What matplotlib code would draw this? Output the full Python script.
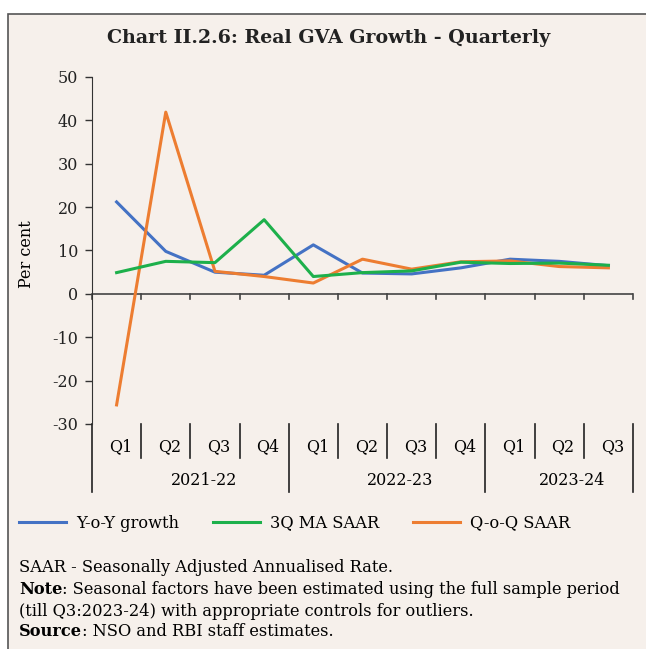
import matplotlib.pyplot as plt
from matplotlib.patches import Rectangle
from matplotlib.text import Annotation

quarters = ["Q1", "Q2", "Q3", "Q4", "Q1", "Q2", "Q3", "Q4", "Q1", "Q2", "Q3"]
years = ["2021-22", "2022-23", "2023-24"]
year_len = [4, 4, 3]

yoy = [21.2, 9.8, 5.0, 4.3, 11.3, 4.8, 4.6, 6.0, 8.0, 7.5, 6.5]
ma3_saar = [4.9, 7.5, 7.2, 17.1, 4.0, 4.9, 5.3, 7.3, 7.0, 7.1, 6.6]
qoq_saar = [-25.6, 41.9, 5.2, 4.0, 2.5, 8.0, 5.7, 7.4, 7.6, 6.3, 6.0]

BG = "#F6F0EB"
plt.rcParams["font.family"] = ["DejaVu Serif"]
plt.rcParams["axes.unicode_minus"] = False

fig = plt.figure(figsize=(6.46, 6.49), dpi=100)
fig.patch.set_facecolor("white")
fig.patches.append(Rectangle((8 / 646, -0.05), 1.2, 1 - 14 / 649 + 0.05,
                             transform=fig.transFigure, facecolor=BG,
                             edgecolor="#555555", linewidth=1.2, zorder=-10))

ax = fig.add_axes([92 / 646, 1 - 424 / 649, (633 - 92) / 646, (424 - 77) / 649])
ax.set_facecolor("none")

x = list(range(1, len(quarters) + 1))
ax.plot(x, yoy, color="#4472C4", lw=2.2, label="Y-o-Y growth", zorder=3)
ax.plot(x, ma3_saar, color="#1DB04B", lw=2.2, label="3Q MA SAAR", zorder=4)
ax.plot(x, qoq_saar, color="#ED7D31", lw=2.2, label="Q-o-Q SAAR", zorder=3)

ax.set_xlim(0.5, len(quarters) + 0.5)
ax.set_ylim(-30, 50)
ax.set_yticks(range(-30, 51, 10))
ax.tick_params(axis="y", direction="out", length=5, width=1, colors="#333333",
               labelsize=11.5, labelcolor="#222222", pad=5)
ax.set_xticks([])
for s in ["top", "right", "bottom"]:
    ax.spines[s].set_visible(False)
ax.spines["left"].set_color("#333333")
ax.axhline(0, color="#444444", lw=1.2, zorder=2)
ax.set_ylabel("Per cent", fontsize=11.5)
ax.yaxis.set_label_coords(-0.105, 0.49)

# category axis: ticks at zero line, separators and labels below
trans = ax.get_xaxis_transform()
for b in range(len(quarters) + 1):
    bx = b + 0.5
    ax.plot([bx, bx], [0, -1.2], color="#444444", lw=1.2, clip_on=False)
ax.plot([0.5, 0.5], [0, -0.196], color="#222222", lw=1.2, transform=trans, clip_on=False)
for i, q in enumerate(quarters):
    ax.text(i + 1.08, -0.065, q, transform=trans, ha="center", va="center", fontsize=11.5)
start = 0
for yr, n in zip(years, year_len):
    ax.text(start + n / 2 + 0.77, -0.162, yr, transform=trans, ha="center", va="center",
            fontsize=11.5)
    for j in range(1, n):
        bx = start + j + 0.5
        ax.plot([bx, bx], [0, -0.098], color="#222222", lw=1.2, transform=trans, clip_on=False)
    start += n
    ax.plot([start + 0.5] * 2, [0, -0.196], color="#222222", lw=1.2, transform=trans,
            clip_on=False)

fig.text(329 / 646, 1 - 38 / 649, "Chart II.2.6: Real GVA Growth - Quarterly",
         ha="center", va="center", fontsize=13.7, fontweight="bold", color="#222222")

fig.legend(loc="center left", bbox_to_anchor=(19 / 646, 1 - 523 / 649), ncol=3,
           frameon=False, fontsize=11.7, handlelength=2.9, columnspacing=2.1,
           handletextpad=0.6, borderpad=0, borderaxespad=0)

FS = 11.7
note_x = 19 / 646
fig.text(note_x, 1 - 568 / 649, "SAAR - Seasonally Adjusted Annualised Rate.",
         fontsize=FS, va="center")
t1 = fig.text(note_x, 1 - 590 / 649, "Note", fontsize=FS, fontweight="bold", va="center")
fig.add_artist(Annotation(": Seasonal factors have been estimated using the full sample period",
                          xy=(1, 0), xycoords=t1, va="bottom", fontsize=FS))
fig.text(note_x, 1 - 611 / 649, "(till Q3:2023-24) with appropriate controls for outliers.",
         fontsize=FS, va="center")
t2 = fig.text(note_x, 1 - 632 / 649, "Source", fontsize=FS, fontweight="bold", va="center")
fig.add_artist(Annotation(": NSO and RBI staff estimates.",
                          xy=(1, 0), xycoords=t2, va="bottom", fontsize=FS))

fig.savefig("out.png", dpi=100, facecolor="white")
